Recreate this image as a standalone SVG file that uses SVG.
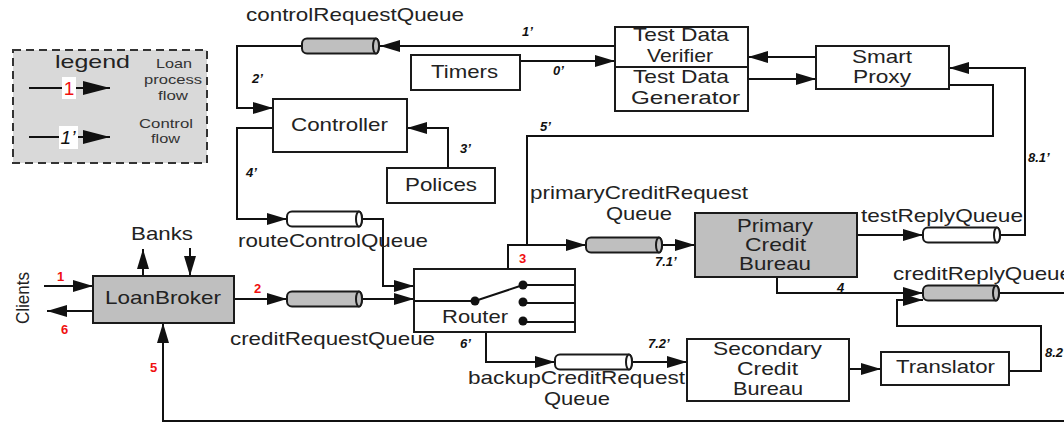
<svg xmlns="http://www.w3.org/2000/svg" width="1064" height="423" viewBox="0 0 1064 423">
<style>
.t{font-family:"Liberation Sans",Arial,sans-serif;font-size:19px;fill:#222}
.s{font-family:"Liberation Sans",Arial,sans-serif;font-size:13px;fill:#333}
.lb{font-family:"Liberation Sans",Arial,sans-serif;font-size:13px;font-weight:bold;font-style:italic;fill:#111}
.rl{font-family:"Liberation Sans",Arial,sans-serif;font-size:13px;font-weight:bold;fill:#f01010}
.box{fill:#fff;stroke:#1a1a1a;stroke-width:2}
.gbox{fill:#bfbfbf;stroke:#1a1a1a;stroke-width:2}
.ln{fill:none;stroke:#111;stroke-width:2}
.ar{fill:none;stroke:#111;stroke-width:2;marker-end:url(#ah)}
.cg{fill:#bfbfbf;stroke:#1a1a1a;stroke-width:2}
.cw{fill:#fff;stroke:#1a1a1a;stroke-width:2}
</style>
<defs>
<marker id="ah" markerUnits="userSpaceOnUse" markerWidth="20" markerHeight="12" refX="20" refY="6" orient="auto" viewBox="0 0 20 12"><path d="M0,0 L20,6 L0,12 Z" fill="#111"/></marker>
<marker id="ahl" markerUnits="userSpaceOnUse" markerWidth="27" markerHeight="14" refX="27" refY="7" orient="auto" viewBox="0 0 27 14"><path d="M0,0 L27,7 L0,14 Z" fill="#111"/></marker>
</defs>
<rect width="1064" height="423" fill="#fff"/>

<g id="legend">
<rect x="13" y="50" width="194" height="113" fill="#d9d9d9" stroke="#333" stroke-width="2" stroke-dasharray="8,5"/>
<text class="t" x="55" y="68" font-size="21" textLength="75" lengthAdjust="spacingAndGlyphs">legend</text>
<line x1="29" y1="88" x2="62" y2="88" class="ln"/>
<rect x="62" y="77" width="14" height="22" fill="#fff"/>
<text x="69" y="95" text-anchor="middle" font-family="Liberation Sans, Arial, sans-serif" font-size="19" fill="#f01010">1</text>
<line x1="76" y1="88" x2="110" y2="88" stroke="#111" stroke-width="2" marker-end="url(#ahl)"/>
<text class="s" x="156" y="68" textLength="36" lengthAdjust="spacingAndGlyphs">Loan</text>
<text class="s" x="144" y="84" textLength="58" lengthAdjust="spacingAndGlyphs">process</text>
<text class="s" x="158" y="100" textLength="30" lengthAdjust="spacingAndGlyphs">flow</text>
<line x1="29" y1="137" x2="59" y2="137" class="ln"/>
<rect x="59" y="126" width="19" height="23" fill="#fff"/>
<text x="68" y="144" text-anchor="middle" font-family="Liberation Sans, Arial, sans-serif" font-size="19" font-style="italic" fill="#111">1’</text>
<line x1="78" y1="137" x2="110" y2="137" stroke="#111" stroke-width="2" marker-end="url(#ahl)"/>
<text class="s" x="139" y="128" textLength="54" lengthAdjust="spacingAndGlyphs">Control</text>
<text class="s" x="151" y="143" textLength="29" lengthAdjust="spacingAndGlyphs">flow</text>
</g>

<g id="connectors">
<path class="ar" d="M615,46 H380"/>
<path class="ar" d="M302,46 H237 V108 H273"/>
<path class="ar" d="M520,61 H615"/>
<path class="ar" d="M816,57 H748"/>
<path class="ar" d="M748,79 H816"/>
<path class="ar" d="M448,168 V128 H407"/>
<path class="ar" d="M273,128 H237 V219 H287"/>
<path class="ar" d="M362,219 H383 V286 H414"/>
<path class="ar" d="M234,299 H287"/>
<path class="ar" d="M362,299 H414"/>
<path class="ar" d="M508,269 V245 H586"/>
<path class="ln" d="M949,85 H993 V136 H527 V245"/>
<path class="ar" d="M662,245 H695"/>
<path class="ar" d="M857,235 H923"/>
<path class="ar" d="M1000,235 H1025 V68 H949"/>
<path class="ar" d="M777,277 V293 H923"/>
<path class="ln" d="M999,293 H1064"/>
<path class="ar" d="M486,332 V362 H555"/>
<path class="ar" d="M632,362 H687"/>
<path class="ar" d="M849,369 H881"/>
<path class="ar" d="M1009,371 H1041 V326 H897 V300 H923"/>
<path class="ar" d="M1064,421 H163 V323"/>
<path class="ar" d="M44,286 H93"/>
<path class="ar" d="M93,311 H47"/>
<path class="ar" d="M143,276 V249"/>
<path class="ar" d="M190,248 V276"/>
<text class="lb" x="522" y="36">1’</text>
<text class="lb" x="553" y="75">0’</text>
<text class="lb" x="252" y="83">2’</text>
<text class="lb" x="460" y="153">3’</text>
<text class="lb" x="246" y="177">4’</text>
<text class="lb" x="540" y="131">5’</text>
<text class="lb" x="460" y="348">6’</text>
<text class="lb" x="655" y="266">7.1’</text>
<text class="lb" x="648" y="348">7.2’</text>
<text class="lb" x="1028" y="162">8.1’</text>
<text class="lb" x="1045" y="357">8.2’</text>
<text class="lb" x="837" y="292">4</text>
<text class="rl" x="57" y="281">1</text>
<text class="rl" x="61" y="334">6</text>
<text class="rl" x="254" y="293">2</text>
<text class="rl" x="519" y="263">3</text>
<text class="rl" x="150" y="372">5</text>
</g>

<g id="controlRequestQueue">
<path class="cg" d="M307,38.5 H376 A3,7.5 0 0 1 376,53.5 H307 A5,5 0 0 1 302,48.5 V43.5 A5,5 0 0 1 307,38.5 Z"/>
<ellipse class="cg" cx="376" cy="46" rx="3" ry="7.5"/>
<text class="t" x="246" y="21" textLength="218" lengthAdjust="spacingAndGlyphs">controlRequestQueue</text>
</g>

<g id="testData">
<rect class="box" x="615" y="27" width="133" height="84"/>
<line x1="615" y1="67" x2="748" y2="67" stroke="#1a1a1a" stroke-width="2"/>
<text class="t" x="633" y="41" textLength="96" lengthAdjust="spacingAndGlyphs">Test Data</text>
<text class="t" x="647" y="62" textLength="66" lengthAdjust="spacingAndGlyphs">Verifier</text>
<text class="t" x="633" y="83" textLength="96" lengthAdjust="spacingAndGlyphs">Test Data</text>
<text class="t" x="631" y="104" textLength="109" lengthAdjust="spacingAndGlyphs">Generator</text>
</g>

<g id="smartProxy">
<rect class="box" x="816" y="46" width="133" height="43"/>
<text class="t" x="852" y="63" textLength="60" lengthAdjust="spacingAndGlyphs">Smart</text>
<text class="t" x="853" y="83" textLength="58" lengthAdjust="spacingAndGlyphs">Proxy</text>
</g>

<g id="timers">
<rect class="box" x="411" y="55" width="109" height="35"/>
<text class="t" x="431" y="78" textLength="67" lengthAdjust="spacingAndGlyphs">Timers</text>
</g>

<g id="controller">
<rect class="box" x="273" y="99" width="134" height="53"/>
<text class="t" x="291" y="131" textLength="97" lengthAdjust="spacingAndGlyphs">Controller</text>
</g>

<g id="polices">
<rect class="box" x="387" y="168" width="108" height="35"/>
<text class="t" x="405" y="191" textLength="72" lengthAdjust="spacingAndGlyphs">Polices</text>
</g>

<g id="banks">
<text class="t" x="131" y="240" textLength="62" lengthAdjust="spacingAndGlyphs">Banks</text>
</g>

<g id="clients">
<text class="t" x="29" y="298" text-anchor="middle" transform="rotate(-90 29 298)" textLength="52" lengthAdjust="spacingAndGlyphs">Clients</text>
</g>

<g id="loanBroker">
<rect class="gbox" x="93" y="276" width="141" height="47"/>
<text class="t" x="105" y="304" textLength="116" lengthAdjust="spacingAndGlyphs">LoanBroker</text>
</g>

<g id="routeControlQueue">
<path class="cw" d="M292,211.5 H359 A3,7.5 0 0 1 359,226.5 H292 A5,5 0 0 1 287,221.5 V216.5 A5,5 0 0 1 292,211.5 Z"/>
<ellipse class="cw" cx="359" cy="219" rx="3" ry="7.5"/>
<text class="t" x="238" y="247" textLength="190" lengthAdjust="spacingAndGlyphs">routeControlQueue</text>
</g>

<g id="creditRequestQueue">
<path class="cg" d="M292,291.5 H359 A3,7.5 0 0 1 359,306.5 H292 A5,5 0 0 1 287,301.5 V296.5 A5,5 0 0 1 292,291.5 Z"/>
<ellipse class="cg" cx="359" cy="299" rx="3" ry="7.5"/>
<text class="t" x="230" y="345" textLength="205" lengthAdjust="spacingAndGlyphs">creditRequestQueue</text>
</g>

<g id="router">
<rect class="box" x="414" y="269" width="161" height="63"/>
<path d="M414,301 H475 L523,285 M523,285 H575 M523,303 H575 M523,322 H575" fill="none" stroke="#111" stroke-width="2"/>
<circle cx="475" cy="301" r="4.5" fill="#111"/>
<circle cx="523" cy="285" r="4.5" fill="#111"/>
<circle cx="523" cy="302" r="4.5" fill="#111"/>
<circle cx="523" cy="321" r="4.5" fill="#111"/>
<text class="t" x="442" y="323" textLength="66" lengthAdjust="spacingAndGlyphs">Router</text>
</g>

<g id="primaryCreditRequestQueue">
<path class="cg" d="M591,237.5 H659 A3,7.5 0 0 1 659,252.5 H591 A5,5 0 0 1 586,247.5 V242.5 A5,5 0 0 1 591,237.5 Z"/>
<ellipse class="cg" cx="659" cy="245" rx="3" ry="7.5"/>
<text class="t" x="530" y="199" textLength="218" lengthAdjust="spacingAndGlyphs">primaryCreditRequest</text>
<text class="t" x="606" y="220" textLength="66" lengthAdjust="spacingAndGlyphs">Queue</text>
</g>

<g id="primaryCreditBureau">
<rect class="gbox" x="695" y="213" width="162" height="64"/>
<text class="t" x="737" y="232" textLength="76" lengthAdjust="spacingAndGlyphs">Primary</text>
<text class="t" x="745" y="251" textLength="61" lengthAdjust="spacingAndGlyphs">Credit</text>
<text class="t" x="739" y="270" textLength="72" lengthAdjust="spacingAndGlyphs">Bureau</text>
</g>

<g id="testReplyQueue">
<path class="cw" d="M928,227.5 H997 A3,7.5 0 0 1 997,242.5 H928 A5,5 0 0 1 923,237.5 V232.5 A5,5 0 0 1 928,227.5 Z"/>
<ellipse class="cw" cx="997" cy="235" rx="3" ry="7.5"/>
<text class="t" x="861" y="222" textLength="162" lengthAdjust="spacingAndGlyphs">testReplyQueue</text>
</g>

<g id="creditReplyQueue">
<path class="cg" d="M928,285.5 H996 A3,7.5 0 0 1 996,300.5 H928 A5,5 0 0 1 923,295.5 V290.5 A5,5 0 0 1 928,285.5 Z"/>
<ellipse class="cg" cx="996" cy="293" rx="3" ry="7.5"/>
<text class="t" x="893" y="280" textLength="179" lengthAdjust="spacingAndGlyphs">creditReplyQueue</text>
</g>

<g id="backupCreditRequestQueue">
<path class="cw" d="M560,354.5 H629 A3,7.5 0 0 1 629,369.5 H560 A5,5 0 0 1 555,364.5 V359.5 A5,5 0 0 1 560,354.5 Z"/>
<ellipse class="cw" cx="629" cy="362" rx="3" ry="7.5"/>
<text class="t" x="468" y="384" textLength="217" lengthAdjust="spacingAndGlyphs">backupCreditRequest</text>
<text class="t" x="544" y="405" textLength="66" lengthAdjust="spacingAndGlyphs">Queue</text>
</g>

<g id="secondaryCreditBureau">
<rect class="box" x="687" y="339" width="162" height="62"/>
<text class="t" x="713" y="355" textLength="109" lengthAdjust="spacingAndGlyphs">Secondary</text>
<text class="t" x="737" y="375" textLength="61" lengthAdjust="spacingAndGlyphs">Credit</text>
<text class="t" x="733" y="395" textLength="70" lengthAdjust="spacingAndGlyphs">Bureau</text>
</g>

<g id="translator">
<rect class="box" x="881" y="352" width="128" height="33"/>
<text class="t" x="896" y="373" textLength="99" lengthAdjust="spacingAndGlyphs">Translator</text>
</g>
</svg>
